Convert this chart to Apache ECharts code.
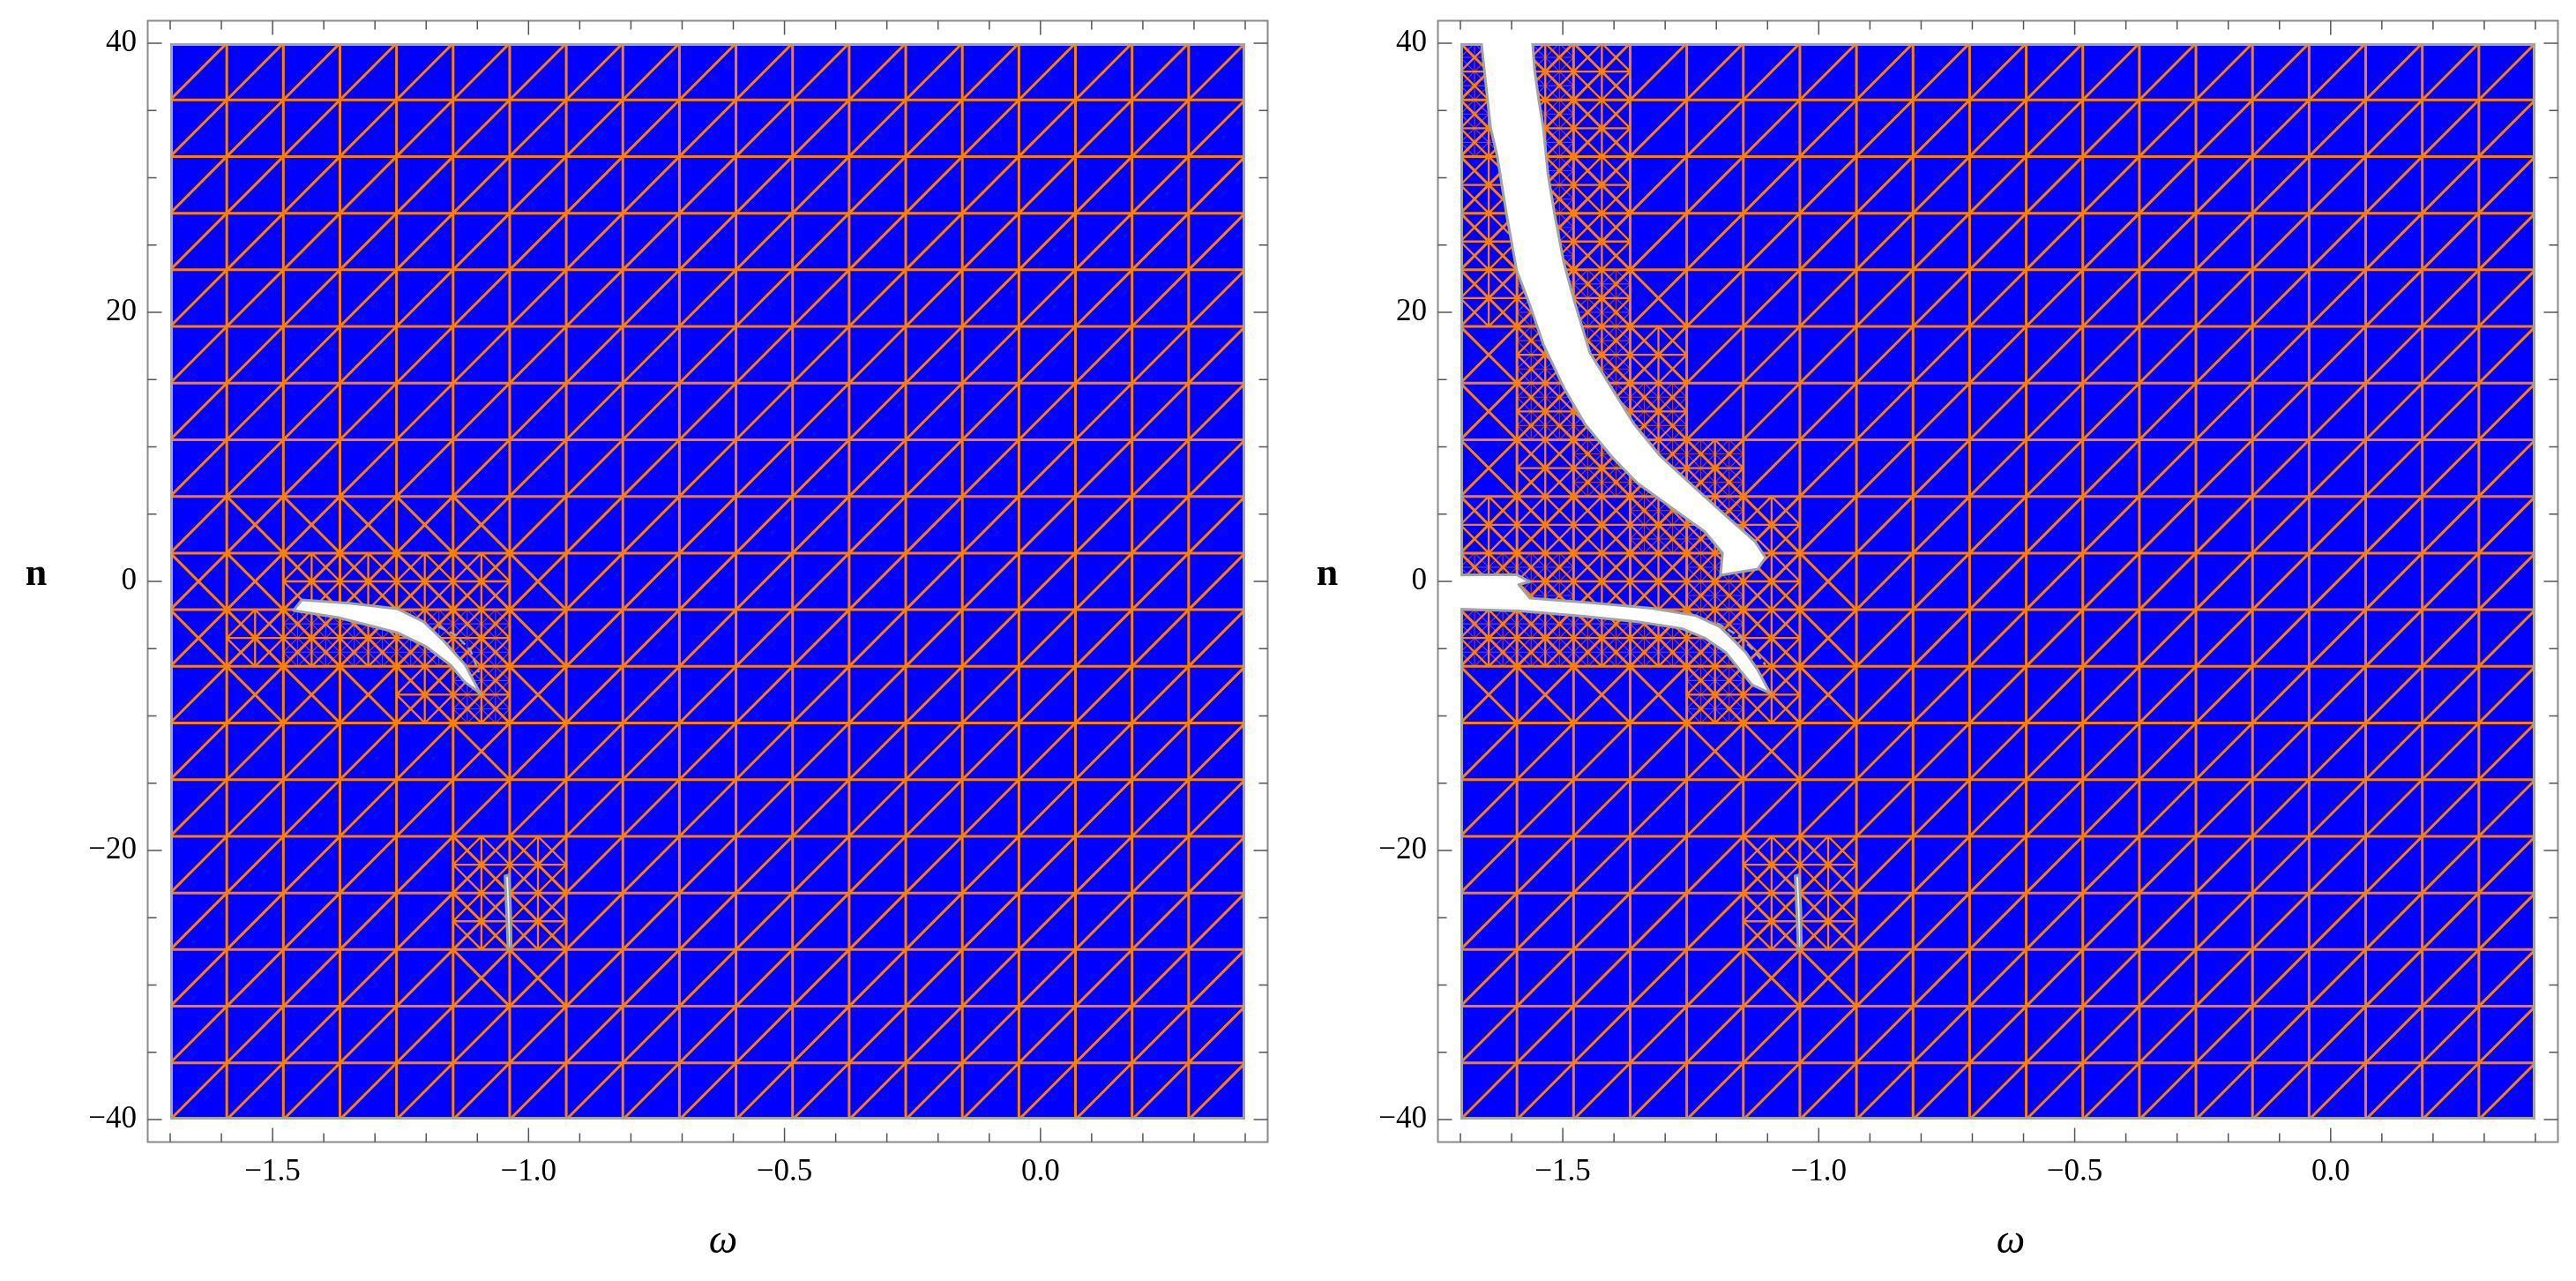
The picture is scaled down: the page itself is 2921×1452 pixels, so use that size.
<!DOCTYPE html>
<html>
<head>
<meta charset="utf-8">
<script src="https://cdn.jsdelivr.net/npm/echarts@6/dist/echarts.min.js"></script>
<style>
  html, body { margin: 0; padding: 0; background: #fff; }
  #chart { width: 2921px; height: 1452px; }
</style>
</head>
<body>
<div id="chart"></div>
<script>
// ---- axes ----
const omegaRange = [-1.7, 0.4];
const nRange = [-40, 40];
const omegaLabels = [-1.5, -1.0, -0.5, 0.0];
const nLabels = [-40, -20, 0, 20, 40];
const omegaMajorTicks = [-1.5, -1.0, -0.5, 0.0];
const omegaMinorTicks = [-1.7, -1.6, -1.4, -1.3, -1.2, -1.1, -0.9, -0.8, -0.7, -0.6, -0.4, -0.3, -0.2, -0.1, 0.1, 0.2, 0.3, 0.4];
const nMajorTicks = [-40, -20, 0, 20, 40];
const nMinorTicks = [-35, -30, -25, -15, -10, -5, 5, 10, 15, 25, 30, 35];

// ---- mesh: 19 x 19 cells, refinement level of each cell (rows listed from the top) ----
const meshCells = 19;
const leftRefine = [
  '0000000000000000000',
  '0000000000000000000',
  '0000000000000000000',
  '0000000000000000000',
  '0000000000000000000',
  '0000000000000000000',
  '0000000000000000000',
  '0000000000000000000',
  '0111110000000000000',
  '1122221000000000000',
  '1233331000000000000',
  '0111231000000000000',
  '0000010000000000000',
  '0000000000000000000',
  '0000022000000000000',
  '0000022000000000000',
  '0000011000000000000',
  '0000000000000000000',
  '0000000000000000000',
];
const rightRefine = [
  '3320000000000000000',
  '3320000000000000000',
  '2320000000000000000',
  '2320000000000000000',
  '2331000000000000000',
  '1332000000000000000',
  '1333000000000000000',
  '1233300000000000000',
  '2223320000000000000',
  '3322321000000000000',
  '3333321000000000000',
  '1111321000000000000',
  '0000110000000000000',
  '0000000000000000000',
  '0000022000000000000',
  '0000022000000000000',
  '0000011000000000000',
  '0000000000000000000',
  '0000000000000000000',
];

// ---- excluded (white) regions, [omega, n] ----
const leftSliver = [
  [-1.459, -2.16], [-1.443, -1.38], [-1.35, -1.62], [-1.257, -2.03], [-1.205, -3.0],
  [-1.165, -4.46], [-1.124, -6.2], [-1.093, -8.4], [-1.102, -8.1], [-1.124, -7.5],
  [-1.153, -6.2], [-1.2, -4.85], [-1.257, -3.8], [-1.372, -2.69],
];
const upperBand = [
  [-1.665, 42], [-1.659, 40], [-1.647, 35.8], [-1.641, 33.7], [-1.628, 31.6], [-1.610, 27.3],
  [-1.590, 23.1], [-1.563, 20.4], [-1.538, 17.6], [-1.498, 14.4], [-1.457, 11.7], [-1.405, 9.3],
  [-1.354, 7.3], [-1.292, 5.6], [-1.223, 3.7], [-1.188, 2.1], [-1.192, 0.46], [-1.119, 0.92],
  [-1.104, 1.77], [-1.125, 3.0], [-1.176, 4.7], [-1.240, 6.9], [-1.309, 9.3], [-1.361, 11.7],
  [-1.405, 14.4], [-1.447, 17.0], [-1.478, 20.9], [-1.498, 23.7], [-1.516, 27.3], [-1.529, 30.3],
  [-1.538, 33.7], [-1.547, 35.8], [-1.555, 38.0], [-1.559, 40], [-1.56, 42],
];
const lowerBand = [
  [-1.75, 0.46], [-1.59, 0.50], [-1.565, -0.02], [-1.586, -0.25], [-1.564, -1.25], [-1.44, -1.6],
  [-1.326, -2.0], [-1.24, -2.55], [-1.194, -3.35], [-1.176, -4.0], [-1.142, -5.3], [-1.119, -6.6],
  [-1.095, -8.3], [-1.13, -7.7], [-1.154, -6.6], [-1.181, -5.3], [-1.223, -4.2], [-1.268, -3.5],
  [-1.354, -3.0], [-1.469, -2.55], [-1.585, -2.2], [-1.75, -2.0],
];
const smallSliver = [
  [-1.046, -21.9], [-1.038, -21.8], [-1.035, -24.5], [-1.034, -27.2], [-1.040, -27.4], [-1.043, -24.5],
];
const tipCurveLeft = [[-1.176, -3.35], [-1.142, -4.0], [-1.114, -5.1], [-1.097, -6.75]];
const tipCurveRight = [[-1.199, -3.1], [-1.154, -4.1], [-1.130, -5.0], [-1.104, -6.2]];

// ---- styles ----
const BLUE = '#0000ff';
const ORANGE = '#ff8000';
const THIN = 'rgba(255,128,0,0.55)';
const EDGE = '#a3a3a3';
const FONT = '"Liberation Serif", "DejaVu Serif", serif';
const FRAME_PAD = 25.5;

const fmt = (v) => (v < 0 ? '\u2212' : '') + Math.abs(v);
const fmt1 = (v) => (v < 0 ? '\u2212' : '') + Math.abs(v).toFixed(1);

const buildMesh = (levels) => {
  const thick = [];
  const mid = [];
  const thin = [];
  const dw = (omegaRange[1] - omegaRange[0]) / meshCells;
  const dn = (nRange[1] - nRange[0]) / meshCells;
  for (let k = 1; k < meshCells; k++) {
    const w = omegaRange[0] + k * dw;
    const n = nRange[0] + k * dn;
    thick.push([w, nRange[0], w, nRange[1]]);
    thick.push([omegaRange[0], n, omegaRange[1], n]);
  }
  // union-jack with diamond inside a box
  const jack = (out, w0, w1, nb, nt) => {
    const wm = (w0 + w1) / 2;
    const nm = (nb + nt) / 2;
    out.push([wm, nb, wm, nt], [w0, nm, w1, nm]);
    out.push([w0, nm, wm, nt], [wm, nt, w1, nm], [w1, nm, wm, nb], [wm, nb, w0, nm]);
  };
  levels.forEach((row, r) => {
    for (let i = 0; i < meshCells; i++) {
      const lv = Number(row[i]);
      const w0 = omegaRange[0] + i * dw;
      const w1 = w0 + dw;
      const nt = nRange[1] - r * dn;
      const nb = nt - dn;
      thick.push([w0, nb, w1, nt]);
      if (lv >= 1) thick.push([w0, nt, w1, nb]);
      if (lv >= 2) jack(mid, w0, w1, nb, nt);
      if (lv >= 3) {
        const wm = (w0 + w1) / 2;
        const nm = (nb + nt) / 2;
        jack(thin, w0, wm, nm, nt);
        jack(thin, wm, w1, nm, nt);
        jack(thin, w0, wm, nb, nm);
        jack(thin, wm, w1, nb, nm);
      }
    }
  });
  return { thick, mid, thin };
};

const segmentSeries = (idx, segs, color, width, z) => ({
  type: 'custom',
  xAxisIndex: idx,
  yAxisIndex: idx,
  silent: true,
  clip: true,
  z,
  data: segs,
  renderItem: (params, api) => {
    const p1 = api.coord([api.value(0), api.value(1)]);
    const p2 = api.coord([api.value(2), api.value(3)]);
    return {
      type: 'line',
      shape: { x1: p1[0], y1: p1[1], x2: p2[0], y2: p2[1] },
      style: { stroke: color, lineWidth: width, lineCap: 'butt' },
    };
  },
});

const shapeSeries = (idx, pts, style, z, kind) => ({
  type: 'custom',
  xAxisIndex: idx,
  yAxisIndex: idx,
  silent: true,
  clip: true,
  z,
  data: [0],
  renderItem: (params, api) => ({
    type: kind || 'polygon',
    shape: { points: pts.map((p) => api.coord(p)) },
    style,
  }),
});

const plotRectSeries = (idx, style, inset, z) => ({
  type: 'custom',
  xAxisIndex: idx,
  yAxisIndex: idx,
  silent: true,
  clip: false,
  z,
  data: [0],
  renderItem: (params, api) => {
    const tl = api.coord([omegaRange[0], nRange[1]]);
    const br = api.coord([omegaRange[1], nRange[0]]);
    return {
      type: 'rect',
      shape: { x: tl[0] + inset, y: tl[1] + inset, width: br[0] - tl[0] - 2 * inset, height: br[1] - tl[1] - 2 * inset },
      style,
    };
  },
});

const frameSeries = (idx) => ({
  type: 'custom',
  xAxisIndex: idx,
  yAxisIndex: idx,
  silent: true,
  clip: false,
  z: 20,
  data: [0],
  renderItem: (params, api) => {
    const tl = api.coord([omegaRange[0], nRange[1]]);
    const br = api.coord([omegaRange[1], nRange[0]]);
    const x0 = tl[0] - FRAME_PAD;
    const y0 = tl[1] - FRAME_PAD;
    const x1 = br[0] + FRAME_PAD;
    const y1 = br[1] + FRAME_PAD;
    const kids = [{
      type: 'rect',
      shape: { x: x0, y: y0, width: x1 - x0, height: y1 - y0 },
      style: { fill: null, stroke: '#8a8a8a', lineWidth: 2 },
    }];
    const tick = (a, b, c, d) => kids.push({
      type: 'line',
      shape: { x1: a, y1: b, x2: c, y2: d },
      style: { stroke: '#555', lineWidth: 1.5 },
    });
    const xt = (v, len) => {
      const x = api.coord([v, 0])[0];
      tick(x, y1, x, y1 - len);
      tick(x, y0, x, y0 + len);
    };
    const yt = (v, len) => {
      const y = api.coord([0, v])[1];
      tick(x0, y, x0 + len, y);
      tick(x1, y, x1 - len, y);
    };
    omegaMajorTicks.forEach((v) => xt(v, 16));
    omegaMinorTicks.forEach((v) => xt(v, 10));
    nMajorTicks.forEach((v) => yt(v, 16));
    nMinorTicks.forEach((v) => yt(v, 10));
    return { type: 'group', children: kids };
  },
});

const panelSeries = (idx, levels, holes, curve) => {
  const mesh = buildMesh(levels);
  const list = [
    plotRectSeries(idx, { fill: BLUE }, 0, 1),
    segmentSeries(idx, mesh.thin, THIN, 1.1, 2),
    segmentSeries(idx, mesh.mid, ORANGE, 2.3, 3),
    segmentSeries(idx, mesh.thick, ORANGE, 3, 4),
    plotRectSeries(idx, { fill: null, stroke: EDGE, lineWidth: 3 }, 1.5, 5),
  ];
  holes.forEach((h) => list.push(shapeSeries(idx, h, { fill: '#ffffff', stroke: EDGE, lineWidth: 3, lineJoin: 'round' }, 6)));
  list.push(shapeSeries(idx, smallSliver, { fill: '#e6f2fa', stroke: '#9c9c9c', lineWidth: 3 }, 7));
  list.push(shapeSeries(idx, curve, { fill: null, stroke: EDGE, lineWidth: 2.5, lineDash: [9, 5] }, 7, 'polyline'));
  list.push(frameSeries(idx));
  return list;
};

const xAxisFor = (idx) => ({
  gridIndex: idx,
  type: 'value',
  min: omegaRange[0],
  max: omegaRange[1],
  axisLine: { show: false },
  axisTick: { show: false },
  splitLine: { show: false },
  axisLabel: {
    customValues: omegaLabels,
    formatter: fmt1,
    margin: 42,
    color: '#000',
    fontFamily: FONT,
    fontSize: 35,
  },
});

const yAxisFor = (idx) => ({
  gridIndex: idx,
  type: 'value',
  min: nRange[0],
  max: nRange[1],
  axisLine: { show: false },
  axisTick: { show: false },
  splitLine: { show: false },
  axisLabel: {
    customValues: nLabels,
    formatter: fmt,
    margin: 38,
    color: '#000',
    fontFamily: FONT,
    fontSize: 35,
  },
});

const title = (x, y, text, font) => ({
  type: 'text',
  x,
  y,
  silent: true,
  style: { text, font, fill: '#000', align: 'center', verticalAlign: 'middle' },
});

const chart = echarts.init(document.getElementById('chart'));
chart.setOption({
  animation: false,
  backgroundColor: '#ffffff',
  grid: [
    { left: 193, top: 49, width: 1219, height: 1220 },
    { left: 1656, top: 49, width: 1219, height: 1220 },
  ],
  xAxis: [xAxisFor(0), xAxisFor(1)],
  yAxis: [yAxisFor(0), yAxisFor(1)],
  graphic: [
    title(41, 652, 'n', 'bold 44px ' + FONT),
    title(1505, 652, 'n', 'bold 44px ' + FONT),
    title(820, 1408, '\u03c9', 'italic 46px ' + FONT),
    title(2280, 1408, '\u03c9', 'italic 46px ' + FONT),
  ],
  series: [
    ...panelSeries(0, leftRefine, [leftSliver], tipCurveLeft),
    ...panelSeries(1, rightRefine, [upperBand, lowerBand], tipCurveRight),
  ],
});
</script>
</body>
</html>
